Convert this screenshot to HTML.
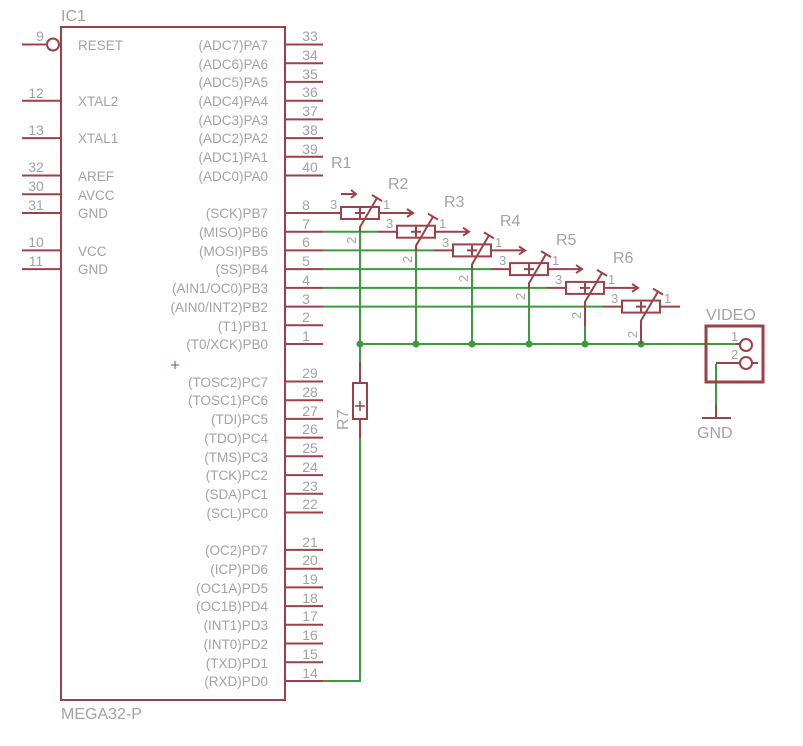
<!DOCTYPE html>
<html><head><meta charset="utf-8"><style>
html,body{margin:0;padding:0;background:#fff;width:803px;height:746px;overflow:hidden}
svg{display:block}
text{font-family:"Liberation Sans",sans-serif;fill:#a3a3a3}
.l{font-size:13.5px}
.n{font-size:14px;text-anchor:middle}
.r{font-size:13.5px;text-anchor:end}
.b{font-size:16px}
.p{font-size:13px}
</style></head><body>
<svg width="803" height="746" viewBox="0 0 803 746" xmlns="http://www.w3.org/2000/svg">
<g stroke="#9c4148" stroke-width="2" fill="none">
<rect x="61" y="27" width="224" height="673"/>
<line x1="22" y1="44.5" x2="46" y2="44.5"/><circle cx="53" cy="44.5" r="6"/>
<line x1="22" y1="100.7" x2="61" y2="100.7"/>
<line x1="22" y1="138.1" x2="61" y2="138.1"/>
<line x1="22" y1="175.5" x2="61" y2="175.5"/>
<line x1="22" y1="194.3" x2="61" y2="194.3"/>
<line x1="22" y1="213" x2="61" y2="213"/>
<line x1="22" y1="250.4" x2="61" y2="250.4"/>
<line x1="22" y1="269.1" x2="61" y2="269.1"/>
<path d="M285 44.5H323M285 63.2H323M285 81.9H323M285 100.7H323M285 119.4H323M285 138.1H323M285 156.8H323M285 175.5H323
M285 213H341M285 231.7H323M285 250.4H323M285 269.1H323M285 287.9H323M285 306.6H323M285 325.3H323M285 344H323
M285 381.5H323M285 400.2H323M285 418.9H323M285 437.6H323M285 456.3H323M285 475.1H323M285 493.8H323M285 512.5H323
M285 549.9H323M285 568.7H323M285 587.4H323M285 606.1H323M285 624.8H323M285 643.5H323M285 662.3H323M285 681H323"/>
<path d="M171 365h8M175 361v8" stroke-width="1"/>
</g>
<text class="l" x="78" y="50">RESET</text>
<text class="l" x="78" y="106">XTAL2</text>
<text class="l" x="78" y="143">XTAL1</text>
<text class="l" x="78" y="181">AREF</text>
<text class="l" x="78" y="200">AVCC</text>
<text class="l" x="78" y="218">GND</text>
<text class="l" x="78" y="256">VCC</text>
<text class="l" x="78" y="274">GND</text>
<text class="n" x="40" y="41">9</text><text class="n" x="36" y="98">12</text><text class="n" x="36" y="135">13</text>
<text class="n" x="36" y="172">32</text><text class="n" x="36" y="191">30</text><text class="n" x="36" y="210">31</text>
<text class="n" x="36" y="247">10</text><text class="n" x="36" y="266">11</text>
<text class="r" x="268" y="50">(ADC7)PA7</text><text class="r" x="268" y="69">(ADC6)PA6</text>
<text class="r" x="268" y="87">(ADC5)PA5</text><text class="r" x="268" y="106">(ADC4)PA4</text>
<text class="r" x="268" y="125">(ADC3)PA3</text><text class="r" x="268" y="143">(ADC2)PA2</text>
<text class="r" x="268" y="162">(ADC1)PA1</text><text class="r" x="268" y="181">(ADC0)PA0</text>
<text class="r" x="268" y="218">(SCK)PB7</text><text class="r" x="268" y="237">(MISO)PB6</text>
<text class="r" x="268" y="256">(MOSI)PB5</text><text class="r" x="268" y="274">(SS)PB4</text>
<text class="r" x="268" y="293">(AIN1/OC0)PB3</text><text class="r" x="268" y="312">(AIN0/INT2)PB2</text>
<text class="r" x="268" y="331">(T1)PB1</text><text class="r" x="268" y="349">(T0/XCK)PB0</text>
<text class="r" x="268" y="387">(TOSC2)PC7</text><text class="r" x="268" y="405">(TOSC1)PC6</text>
<text class="r" x="268" y="424">(TDI)PC5</text><text class="r" x="268" y="443">(TDO)PC4</text>
<text class="r" x="268" y="462">(TMS)PC3</text><text class="r" x="268" y="480">(TCK)PC2</text>
<text class="r" x="268" y="499">(SDA)PC1</text><text class="r" x="268" y="518">(SCL)PC0</text>
<text class="r" x="268" y="555">(OC2)PD7</text><text class="r" x="268" y="574">(ICP)PD6</text>
<text class="r" x="268" y="593">(OC1A)PD5</text><text class="r" x="268" y="611">(OC1B)PD4</text>
<text class="r" x="268" y="630">(INT1)PD3</text><text class="r" x="268" y="649">(INT0)PD2</text>
<text class="r" x="268" y="668">(TXD)PD1</text><text class="r" x="268" y="686">(RXD)PD0</text>
<text class="n" x="310" y="41">33</text><text class="n" x="310" y="60">34</text><text class="n" x="310" y="79">35</text><text class="n" x="310" y="97">36</text>
<text class="n" x="310" y="116">37</text><text class="n" x="310" y="135">38</text><text class="n" x="310" y="154">39</text><text class="n" x="310" y="172">40</text>
<text class="n" x="306" y="210">8</text><text class="n" x="306" y="229">7</text><text class="n" x="306" y="247">6</text><text class="n" x="306" y="266">5</text>
<text class="n" x="306" y="285">4</text><text class="n" x="306" y="304">3</text><text class="n" x="306" y="322">2</text><text class="n" x="306" y="341">1</text>
<text class="n" x="310" y="378">29</text><text class="n" x="310" y="397">28</text><text class="n" x="310" y="416">27</text><text class="n" x="310" y="434">26</text>
<text class="n" x="310" y="453">25</text><text class="n" x="310" y="472">24</text><text class="n" x="310" y="491">23</text><text class="n" x="310" y="509">22</text>
<text class="n" x="310" y="547">21</text><text class="n" x="310" y="565">20</text><text class="n" x="310" y="584">19</text><text class="n" x="310" y="603">18</text>
<text class="n" x="310" y="621">17</text><text class="n" x="310" y="640">16</text><text class="n" x="310" y="659">15</text><text class="n" x="310" y="678">14</text>
<text class="b" x="61" y="21">IC1</text>
<text class="b" x="61" y="719">MEGA32-P</text>
<g stroke="#3f9a3f" stroke-width="2" fill="none">
<path d="M323 231.7H378M323 250.4H434M323 269.1H491M323 287.9H547M323 306.6H603"/>
<path d="M360 232V362M416 251V344M472 270V344M529 289V344M585 326V344"/>
<path d="M360 344H736"/>
<path d="M360 438V681H323"/>
<path d="M716 364V405"/>
</g>
<g fill="#3f9a3f">
<circle cx="360" cy="344" r="3.5"/><circle cx="416" cy="344" r="3.5"/><circle cx="472" cy="344" r="3.5"/>
<circle cx="529" cy="344" r="3.5"/><circle cx="585" cy="344" r="3.5"/><circle cx="641" cy="344" r="3.5"/>
</g>
<g stroke="#9c4148" stroke-width="2" fill="none">
<path d="M341 194h15M351 190l5 4-5 4"/>
<rect x="341" y="207" width="38" height="12"/>
<path d="M379 213h34M407 209l6 4-6 4M360 232V227l17-29M372 195l10 6M355 213h10M360 208v10" />
<path d="M378 231.7h19"/><rect x="397" y="225.7" width="38" height="12"/>
<path d="M435 231.7h34M463 227.7l6 4-6 4M416 251V245.7l17-29M428 213.7l10 6M411 231.7h10M416 226.7v10"/>
<path d="M434 250.4h19"/><rect x="453" y="244.4" width="38" height="12"/>
<path d="M491 250.4h34M519 246.4l6 4-6 4M472 270V264.4l17-29M484 232.4l10 6M467 250.4h10M472 245.4v10"/>
<path d="M491 269.1h19"/><rect x="510" y="263.1" width="38" height="12"/>
<path d="M548 269.1h34M576 265.1l6 4-6 4M529 289V283.1l17-29M541 251.1l10 6M524 269.1h10M529 264.1v10"/>
<path d="M547 287.9h19"/><rect x="566" y="281.9" width="38" height="12"/>
<path d="M604 287.9h34M632 283.9l6 4-6 4M585 326V301.9l17-29M597 269.9l10 6M580 287.9h10M585 282.9v10"/>
<path d="M603 306.6h19"/><rect x="622" y="300.6" width="38" height="12"/>
<path d="M660 306.6h20M641 344V320.6l17-29M653 288.6l10 6M636 306.6h10M641 301.6v10"/>
<path d="M360 362v21M360 419v19"/><rect x="353" y="383" width="14" height="36"/>
<path d="M355 406h10M360 401v10" stroke-width="1.5"/>
<rect x="706" y="326" width="57" height="56" stroke-width="3"/>
<circle cx="746" cy="345" r="6"/><circle cx="746" cy="363" r="6"/>
<path d="M736 344h4M740 363h-24M716 405v13M702 418h29M752 363h6"/>
</g>
<text class="p" x="330" y="209">3</text><text class="p" x="383" y="209">1</text>
<text class="p" x="386" y="228">3</text><text class="p" x="439" y="228">1</text>
<text class="p" x="442" y="247">3</text><text class="p" x="495" y="247">1</text>
<text class="p" x="499" y="265">3</text><text class="p" x="552" y="265">1</text>
<text class="p" x="555" y="284">3</text><text class="p" x="608" y="284">1</text>
<text class="p" x="611" y="303">3</text><text class="p" x="664" y="303">1</text>
<text class="p" transform="translate(356,244) rotate(-90)">2</text>
<text class="p" transform="translate(412,263) rotate(-90)">2</text>
<text class="p" transform="translate(468,282) rotate(-90)">2</text>
<text class="p" transform="translate(525,300) rotate(-90)">2</text>
<text class="p" transform="translate(581,319) rotate(-90)">2</text>
<text class="p" transform="translate(637,338) rotate(-90)">2</text>
<text class="p" x="731" y="341">1</text><text class="p" x="731" y="359">2</text>
<text class="b" x="331" y="168">R1</text>
<text class="b" x="388" y="189">R2</text>
<text class="b" x="444" y="207">R3</text>
<text class="b" x="500" y="226">R4</text>
<text class="b" x="556" y="245">R5</text>
<text class="b" x="613" y="263">R6</text>
<text class="b" transform="translate(348,430) rotate(-90)">R7</text>
<text class="b" x="706" y="320">VIDEO</text>
<text class="b" x="697" y="438">GND</text>
</svg>
</body></html>
